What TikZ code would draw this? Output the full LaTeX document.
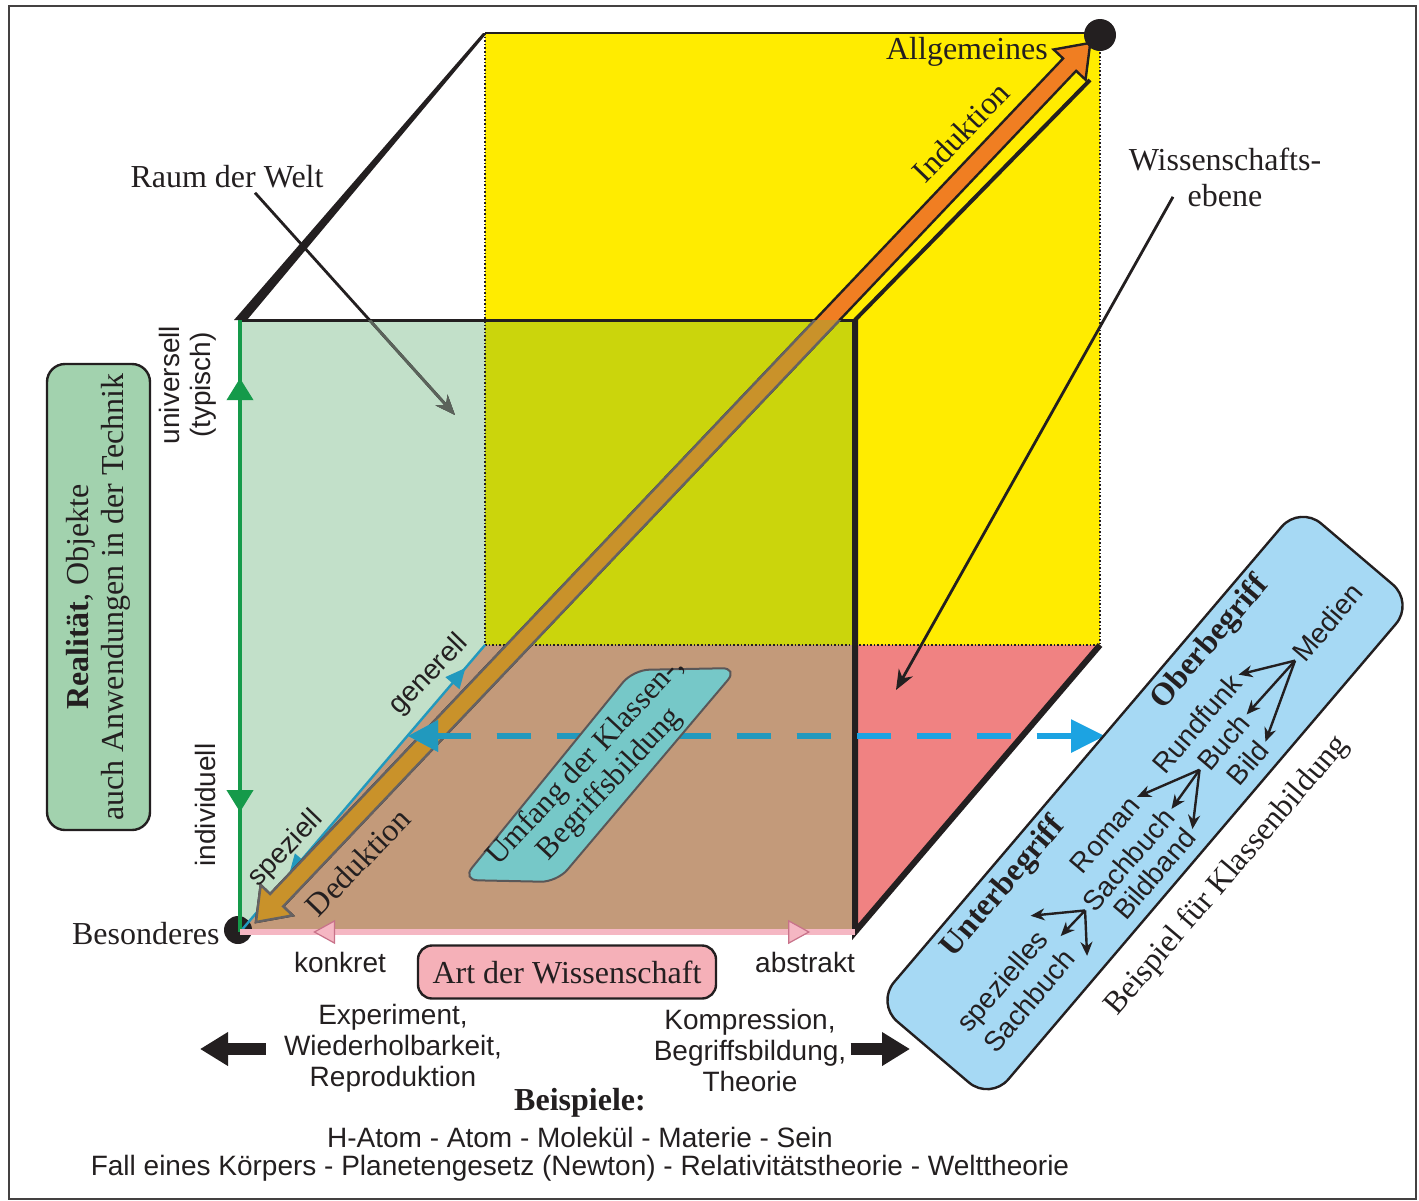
\documentclass[tikz,border=0pt]{standalone}
\usepackage{fontspec}
\setmainfont{Liberation Serif}
\setsansfont{Liberation Sans}
\usetikzlibrary{arrows.meta,decorations.markings}

\definecolor{ink}{HTML}{231F20}
\definecolor{gelb}{HTML}{FFEC00}
\definecolor{hellgruen}{HTML}{C2E0C9}
\definecolor{oliv}{HTML}{CBD50C}
\definecolor{boden}{HTML}{C39A7A}
\definecolor{bodenrot}{HTML}{F08282}
\definecolor{kantegruen}{HTML}{159A4A}
\definecolor{kanterosa}{HTML}{F5B7C3}
\definecolor{rosadunkel}{HTML}{C8728A}
\definecolor{blau}{HTML}{1CA3E2}
\definecolor{tuerkis}{HTML}{2199BE}
\definecolor{pfeilorange}{HTML}{F07E22}
\definecolor{pfeilbraun}{HTML}{C9922A}
\definecolor{boxgruen}{HTML}{A2D2AE}
\definecolor{boxtuerkis}{HTML}{76C8C8}
\definecolor{boxblau}{HTML}{A6D9F4}
\definecolor{boxrosa}{HTML}{F5B0B8}

% Doppelpfeil Induktion / Deduktion (lokal, Laenge 1212)
\newcommand{\diagpfeil}{(0,0) -- (30,-22) -- (30,-9) -- (1182,-9) -- (1182,-22) -- (1212,0) -- (1182,22) -- (1182,9) -- (30,9) -- (30,22) -- cycle}

\tikzset{
  serif/.style={font=\fontsize{16}{18}\selectfont, text=ink, inner sep=2pt},
  sans/.style={font=\sffamily\fontsize{14}{15.5}\selectfont, text=ink, inner sep=2pt},
  boldserif/.style={text=ink, inner sep=2pt, font=\bfseries\fontsize{16}{18}\selectfont},
  rahmen/.style={draw=ink!85, line width=1pt},
  punkt/.style={circle, fill=ink, inner sep=0pt, minimum size=14pt},
  pointer/.style={draw=ink, line width=1.4pt, -{Stealth[length=10pt,width=8pt]}},
  graupointer/.style={draw=ink!65!hellgruen, line width=1.4pt, -{Stealth[length=10pt,width=8pt]}},
  smallarrow/.style={draw=ink, line width=1.2pt, -{Stealth[length=7pt,width=6pt]}},
  fatarrow/.style={draw=ink, line width=6pt, -{Triangle[length=14pt,width=16pt]}},
  dashpfeil/.style={line width=3pt, dash pattern=on 17pt off 13pt,
    {Triangle[length=15pt,width=15pt]}-{Triangle[length=17pt,width=16pt]}},
  gruenkante/.style={draw=kantegruen, line width=2pt, postaction={decorate},
    decoration={markings,
      mark=at position 0.905 with {\arrow{Triangle[length=11pt,width=13pt]}},
      mark=at position 0.196 with {\arrowreversed{Triangle[length=11pt,width=13pt]}}}},
  rosakante/.style={draw=kanterosa, line width=3pt, postaction={decorate},
    decoration={markings,
      mark=at position 0.119 with {\arrowreversed{Triangle[length=11pt,width=12pt,fill=kanterosa,color=rosadunkel,line width=0.6pt]}},
      mark=at position 0.927 with {\arrow{Triangle[length=11pt,width=12pt,fill=kanterosa,color=rosadunkel,line width=0.6pt]}}}},
  blaukante/.style={draw=tuerkis, line width=1.2pt, postaction={decorate},
    decoration={markings,
      mark=at position 0.92 with {\arrow{Triangle[length=10pt,width=9pt]}},
      mark=at position 0.2 with {\arrowreversed{Triangle[length=10pt,width=9pt]}}}},
  artbox/.style={serif, draw=ink, line width=1.2pt, fill=boxrosa, rounded corners=7pt, minimum width=149pt, minimum height=26.5pt},
  tealbox/.style={draw=ink!75, line width=1pt, fill=boxtuerkis, rounded corners=8pt},
  blaubox/.style={draw=ink, line width=1.2pt, fill=boxblau, rounded corners=14pt},
  realbox/.style={draw=ink, line width=1.2pt, fill=boxgruen, rounded corners=9pt, minimum width=233pt, minimum height=51.5pt, align=center, text=ink, font=\fontsize{16}{17.5}\selectfont},
}

\begin{document}
\begin{tikzpicture}[x=0.5pt, y=-0.5pt]
	\useasboundingbox (0,0) rectangle (1419,1200);
	\draw[rahmen] (9,6) rectangle (1416,1199);

	% Ecken des Wuerfels
	\coordinate (vlo) at (240,320);
	\coordinate (vro) at (855,320);
	\coordinate (vru) at (855,932);
	\coordinate (vlu) at (240,932);
	\coordinate (hlo) at (485,33);
	\coordinate (hro) at (1100,33);
	\coordinate (hru) at (1100,645);
	\coordinate (hlu) at (485,645);

	% Flaechen
	\fill[hellgruen] (vlo) rectangle (vru);
	\fill[gelb] (hlo) rectangle (hru);
	\fill[oliv] (hlo |- vlo) rectangle (vro |- hlu);
	\fill[boden] (vlu) -- (vru) -- (vro |- hlu) -- (hlu) -- cycle;
	\fill[bodenrot] (vro |- hlu) -- (hru) -- (vru) -- cycle;

	% Kanten
	\draw[ink, line width=0.8pt, densely dotted] (hlo) -- (hlu) -- (hru) -- (hro);
	\draw[ink, line width=1pt] (hlo) -- (hro);
	\fill[ink] ([xshift=-3pt]vlo) -- ([xshift=3.5pt]vlo) -- ([xshift=1pt]hlo) -- ([xshift=-1pt]hlo) -- cycle;
	\draw[ink, line width=1.5pt] (vlo) -- (vro);
	\coordinate (kante) at (1090,80);
	\draw[ink, line width=2pt] (vro) -- (kante);
	\draw[ink, line width=3pt] (vro) -- (vru) -- (hru);

	\node[punkt] (bespunkt) at (238,930) {};
	\draw[blaukante] (vlu) -- (hlu);

	% Induktion / Deduktion
	\begin{scope}[shift={(256,922)}, rotate=46.5]
		\filldraw[fill=pfeilorange, draw=ink, line width=1.2pt] \diagpfeil;
	\end{scope}
	\begin{scope}
		\clip (vlo) rectangle (vru);
		\begin{scope}[shift={(256,922)}, rotate=46.5]
			\filldraw[fill=pfeilbraun, draw=ink!70, line width=1.2pt] \diagpfeil;
		\end{scope}
	\end{scope}

	% Umfang der Begriffsbildung
	\coordinate (umfangl) at (408,736);
	\coordinate (umfangr) at (1105,736);
	\draw[dashpfeil, draw=blau] (umfangl) -- (umfangr);
	\begin{scope}
		\clip (vlo) rectangle (vru);
		\draw[dashpfeil, draw=tuerkis] (umfangl) -- (umfangr);
	\end{scope}

	\draw[gruenkante] (vlu) -- (vlo);
	\draw[rosakante] (vlu) -- (vru);
	\node[punkt, minimum size=16pt] (allgpunkt) at (1100,35) {};

	% Beschriftung am Wuerfel
	\node[serif] (allg) at (967,52) {Allgemeines};
	\node[serif, rotate=46] (induktion) at (961,132) {Induktion};
	\node[serif, rotate=46] (deduktion) at (358,862) {Deduktion};
	\node[sans, rotate=46] (generell) at (429,675) {generell};
	\node[sans, rotate=46] (speziell) at (286,849) {speziell};
	\node[sans, rotate=90, align=center] (univ) at (188,385) {universell\\(typisch)};
	\node[sans, rotate=90] (indiv) at (205,805) {individuell};
	\node[serif, anchor=east] (besonderes) at (224,934) {Besonderes};
	\node[sans] (konkret) at (340,962) {konkret};
	\node[sans] (abstrakt) at (805,962) {abstrakt};

	\node[serif] (raum) at (227,177) {Raum der Welt};
	\coordinate (raumziel) at (455,415);
	\draw[pointer] ([xshift=14pt]raum.south) -- (raumziel);
	\begin{scope}
		\clip (vlo) rectangle (vru);
		\draw[graupointer] ([xshift=14pt]raum.south) -- (raumziel);
	\end{scope}

	\node[serif, align=center] (wiss) at (1225,177) {Wissenschafts-\\ebene};
	\coordinate (wissziel) at (896,690);
	\draw[pointer] ([xshift=-26pt,yshift=7pt]wiss.south) -- (wissziel);

	\draw[tealbox] (462,880) -- (557,882) -- (738,668) -- (633,670) -- cycle;
	\node[serif, rotate=47, align=center, font=\fontsize{15.5}{16.5}\selectfont] (umfang) at (598,773) {Umfang der Klassen-,\\Begriffsbildung};

	\node[realbox, rotate=90] (real) at (98.5,597) {\textbf{Realität}, Objekte\\auch Anwendungen in der Technik};

	% unten
	\node[artbox] (art) at (567,972) {Art der Wissenschaft};
	\node[sans, align=center] (exper) at (393,1048) {Experiment,\\Wiederholbarkeit,\\Reproduktion};
	\node[sans, align=center] (kompr) at (750,1050) {Kompression,\\Begriffsbildung,\\Theorie};
	\coordinate (links) at (200,1049);
	\coordinate (rechts) at (910,1049);
	\draw[fatarrow, shorten <=7pt] (exper.west |- links) -- (links);
	\draw[fatarrow] (kompr.east |- rechts) -- (rechts);
	\node[boldserif] (beisp) at (580,1103) {Beispiele:};
	\node[sans] (reihe1) at (580,1137) {H-Atom - Atom - Molekül - Materie - Sein};
	\node[sans] (reihe2) at (580,1168) {Fall eines Körpers - Planetengesetz (Newton) - Relativitätstheorie - Welttheorie};

	% Beispiel fuer Klassenbildung
	\begin{scope}[shift={(1145,803)}, rotate=49.6, transform shape]
		\draw[blaubox] (-327,-75) rectangle (327,75);
		\node[boldserif] (ober) at (164,-54) {Oberbegriff};
		\node[boldserif] (unter) at (-156,-53) {Unterbegriff};
		\node[sans] (medien) at (256,22) {Medien};
		\node[sans] (rundfunk) at (94,-12) {Rundfunk};
		\node[sans] (buch) at (97,20) {Buch};
		\node[sans] (bild) at (97,52) {Bild};
		\node[sans] (roman) at (-50,-10) {Roman};
		\node[sans] (sachbuch) at (-54,24) {Sachbuch};
		\node[sans] (bildband) at (-48,53) {Bildband};
		\node[sans] (spez) at (-228,9) {spezielles};
		\node[sans] (sachbuchb) at (-226,40) {Sachbuch};
		\node[serif] (klassen) at (-2,110) {Beispiel für Klassenbildung};
		\coordinate (ziel1) at (-160,-14);
		\coordinate (ziel2) at (-156,22);
		\coordinate (ziel3) at (-154,55);
		\draw[smallarrow] (medien.west) -- (rundfunk.east);
		\draw[smallarrow] (medien.west) -- (buch.east);
		\draw[smallarrow] (medien.west) -- (bild.east);
		\draw[smallarrow] (buch.west) -- (roman.east);
		\draw[smallarrow] (buch.west) -- (sachbuch.east);
		\draw[smallarrow] (buch.west) -- (bildband.east);
		\draw[smallarrow] (sachbuch.west) -- (ziel1);
		\draw[smallarrow] (sachbuch.west) -- (ziel2);
		\draw[smallarrow] (sachbuch.west) -- (ziel3);
	\end{scope}
\end{tikzpicture}
\end{document}
